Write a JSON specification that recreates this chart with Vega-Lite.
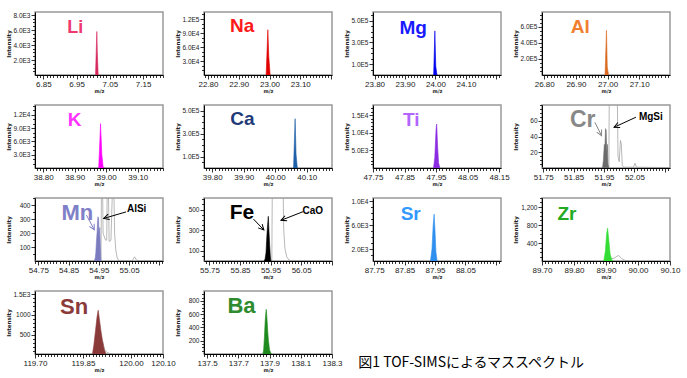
{
"$schema":"https://vega.github.io/schema/vega-lite/v6.json",
"background":"white",
"padding":{"left":5,"top":10,"right":5,"bottom":2},
"bounds":"flush",
"columns":4,
"spacing":{"row":30,"column":41},
"title":{"text":"図1 TOF-SIMSによるマススペクトル","orient":"bottom","anchor":"start","font":"Noto Sans CJK JP","fontSize":14,"fontWeight":"normal","color":"#000","dx":353,"dy":-17,"offset":0},
"concat":[
{"width":128,"height":63,
 "encoding":{
  "x":{"field":"x","type":"quantitative","scale":{"domain":[6.825,7.21],"nice":false,"zero":false},"axis":{"title":"m/z","tickCount":40,"labelExpr":"abs(round(datum.value*100)%10)==5?format(datum.value,'.2f'):''","tickSize":{"condition":{"test":"abs(round(datum.value*100)%10)==5","value":4},"value":2.5}}},
  "y":{"field":"y","type":"quantitative","scale":{"domain":[0,8400],"nice":false,"zero":false},"axis":{"title":"Intensity","values":[500,1000,1500,2000,2500,3000,3500,4000,4500,5000,5500,6000,6500,7000,7500,8000],"labelExpr":"indexof([2000,4000,6000,8000],datum.value)>=0?format(datum.value/pow(10,floor(log(datum.value)/LN10+1e-9)),'.1f')+'E'+floor(log(datum.value)/LN10+1e-9):''","tickSize":{"condition":{"test":"indexof([2000,4000,6000,8000],datum.value)>=0","value":4},"value":2.5}}}},
 "layer":[
  {"data":{"values":[{"x":7.007,"y":0},{"x":7.011,"y":5800},{"x":7.0125,"y":3000},{"x":7.015,"y":0}]},"mark":{"type":"area","color":"#d6285e","stroke":"#d6285e","strokeWidth":0.6,"clip":true}},
  {"data":{"values":[{"x":6.946,"y":6270,"t":"Li"}]},"mark":{"type":"text","fontSize":18,"color":"#ee3a6e"},"encoding":{"text":{"field":"t"}}}
 ]},
{"width":128,"height":63,
 "encoding":{
  "x":{"field":"x","type":"quantitative","scale":{"domain":[22.787,23.203],"nice":false,"zero":false},"axis":{"title":"m/z","tickCount":40,"labelExpr":"abs(round(datum.value*100)%10)==0&&datum.value<23.15?format(datum.value,'.2f'):''","tickSize":{"condition":{"test":"abs(round(datum.value*100)%10)==0","value":4},"value":2.5}}},
  "y":{"field":"y","type":"quantitative","scale":{"domain":[0,135000],"nice":false,"zero":false},"axis":{"title":"Intensity","values":[10000,20000,30000,40000,50000,60000,70000,80000,90000,100000,110000,120000,130000],"labelExpr":"indexof([30000,60000,90000,120000],datum.value)>=0?format(datum.value/pow(10,floor(log(datum.value)/LN10+1e-9)),'.1f')+'E'+floor(log(datum.value)/LN10+1e-9):''","tickSize":{"condition":{"test":"indexof([30000,60000,90000,120000],datum.value)>=0","value":4},"value":2.5}}}},
 "layer":[
  {"data":{"values":[{"x":22.989,"y":0},{"x":22.9945,"y":97000},{"x":22.9975,"y":40000},{"x":23.002,"y":0}]},"mark":{"type":"area","color":"#e00000","stroke":"#e00000","strokeWidth":0.6,"clip":true}},
  {"data":{"values":[{"x":22.911,"y":104000,"t":"Na"}]},"mark":{"type":"text","fontSize":19,"color":"#ff1a1a"},"encoding":{"text":{"field":"t"}}}
 ]},
{"width":128,"height":63,
 "encoding":{
  "x":{"field":"x","type":"quantitative","scale":{"domain":[23.795,24.215],"nice":false,"zero":false},"axis":{"title":"m/z","tickCount":40,"labelExpr":"abs(round(datum.value*100)%10)==0&&datum.value<24.15?format(datum.value,'.2f'):''","tickSize":{"condition":{"test":"abs(round(datum.value*100)%10)==0","value":4},"value":2.5}}},
  "y":{"field":"y","type":"quantitative","scale":{"domain":[0,580000],"nice":false,"zero":false},"axis":{"title":"Intensity","values":[50000,100000,150000,200000,250000,300000,350000,400000,450000,500000,550000],"labelExpr":"indexof([100000,300000,500000],datum.value)>=0?format(datum.value/pow(10,floor(log(datum.value)/LN10+1e-9)),'.1f')+'E'+floor(log(datum.value)/LN10+1e-9):''","tickSize":{"condition":{"test":"indexof([100000,300000,500000],datum.value)>=0","value":4},"value":2.5}}}},
 "layer":[
  {"data":{"values":[{"x":23.994,"y":0},{"x":23.998,"y":406000},{"x":24.001,"y":80000},{"x":24.005,"y":0}]},"mark":{"type":"area","color":"#0000ee","stroke":"#0000ee","strokeWidth":0.6,"clip":true}},
  {"data":{"values":[{"x":23.927,"y":435000,"t":"Mg"}]},"mark":{"type":"text","fontSize":19,"color":"#1a1aff"},"encoding":{"text":{"field":"t"}}}
 ]},
{"width":128,"height":63,
 "encoding":{
  "x":{"field":"x","type":"quantitative","scale":{"domain":[26.793,27.197],"nice":false,"zero":false},"axis":{"title":"m/z","tickCount":40,"labelExpr":"abs(round(datum.value*100)%10)==0&&datum.value<27.15?format(datum.value,'.2f'):''","tickSize":{"condition":{"test":"abs(round(datum.value*100)%10)==0","value":4},"value":2.5}}},
  "y":{"field":"y","type":"quantitative","scale":{"domain":[0,785000],"nice":false,"zero":false},"axis":{"title":"Intensity","values":[50000,100000,150000,200000,250000,300000,350000,400000,450000,500000,550000,600000,650000,700000,750000],"labelExpr":"indexof([200000,400000,600000],datum.value)>=0?format(datum.value/pow(10,floor(log(datum.value)/LN10+1e-9)),'.1f')+'E'+floor(log(datum.value)/LN10+1e-9):''","tickSize":{"condition":{"test":"indexof([200000,400000,600000],datum.value)>=0","value":4},"value":2.5}}}},
 "layer":[
  {"data":{"values":[{"x":26.992,"y":0},{"x":26.9965,"y":556000},{"x":26.999,"y":100000},{"x":27.003,"y":0}]},"mark":{"type":"area","color":"#d96a1e","stroke":"#d96a1e","strokeWidth":0.6,"clip":true}},
  {"data":{"values":[{"x":26.914,"y":596000,"t":"Al"}]},"mark":{"type":"text","fontSize":19,"color":"#f08030"},"encoding":{"text":{"field":"t"}}}
 ]},
{"width":128,"height":63,
 "encoding":{
  "x":{"field":"x","type":"quantitative","scale":{"domain":[38.774,39.18],"nice":false,"zero":false},"axis":{"title":"m/z","tickCount":40,"labelExpr":"abs(round(datum.value*100)%10)==0?format(datum.value,'.2f'):''","tickSize":{"condition":{"test":"abs(round(datum.value*100)%10)==0","value":4},"value":2.5}}},
  "y":{"field":"y","type":"quantitative","scale":{"domain":[0,14200],"nice":false,"zero":false},"axis":{"title":"Intensity","values":[1000,2000,3000,4000,5000,6000,7000,8000,9000,10000,11000,12000,13000,14000],"labelExpr":"indexof([3000,6000,9000,12000],datum.value)>=0?format(datum.value/pow(10,floor(log(datum.value)/LN10+1e-9)),'.1f')+'E'+floor(log(datum.value)/LN10+1e-9):''","tickSize":{"condition":{"test":"indexof([3000,6000,9000,12000],datum.value)>=0","value":4},"value":2.5}}}},
 "layer":[
  {"data":{"values":[{"x":38.990,"y":0},{"x":38.995,"y":150},{"x":39.000,"y":0},{"x":39.008,"y":100},{"x":39.013,"y":0},{"x":39.035,"y":80},{"x":39.040,"y":0}]},"mark":{"type":"line","color":"#aaaaaa","strokeWidth":0.7,"clip":true}},
  {"data":{"values":[{"x":38.976,"y":0},{"x":38.982,"y":10000},{"x":38.986,"y":3000},{"x":38.990,"y":300},{"x":38.993,"y":0}]},"mark":{"type":"area","color":"#ff00ff","stroke":"#ff00ff","strokeWidth":0.6,"clip":true}},
  {"data":{"values":[{"x":38.900,"y":10900,"t":"K"}]},"mark":{"type":"text","fontSize":19,"color":"#ff33ff"},"encoding":{"text":{"field":"t"}}}
 ]},
{"width":128,"height":63,
 "encoding":{
  "x":{"field":"x","type":"quantitative","scale":{"domain":[39.774,40.18],"nice":false,"zero":false},"axis":{"title":"m/z","tickCount":40,"labelExpr":"abs(round(datum.value*100)%10)==0?format(datum.value,'.2f'):''","tickSize":{"condition":{"test":"abs(round(datum.value*100)%10)==0","value":4},"value":2.5}}},
  "y":{"field":"y","type":"quantitative","scale":{"domain":[0,550000],"nice":false,"zero":false},"axis":{"title":"Intensity","values":[50000,100000,150000,200000,250000,300000,350000,400000,450000,500000],"labelExpr":"indexof([100000,300000,500000],datum.value)>=0?format(datum.value/pow(10,floor(log(datum.value)/LN10+1e-9)),'.1f')+'E'+floor(log(datum.value)/LN10+1e-9):''","tickSize":{"condition":{"test":"indexof([100000,300000,500000],datum.value)>=0","value":4},"value":2.5}}}},
 "layer":[
  {"data":{"values":[{"x":40.058,"y":0},{"x":40.063,"y":430000},{"x":40.066,"y":120000},{"x":40.070,"y":0}]},"mark":{"type":"area","color":"#1f5fa8","stroke":"#1f5fa8","strokeWidth":0.6,"clip":true}},
  {"data":{"values":[{"x":39.896,"y":431000,"t":"Ca"}]},"mark":{"type":"text","fontSize":19,"color":"#1f3a78"},"encoding":{"text":{"field":"t"}}}
 ]},
{"width":128,"height":63,
 "encoding":{
  "x":{"field":"x","type":"quantitative","scale":{"domain":[47.75,48.156],"nice":false,"zero":false},"axis":{"title":"m/z","tickCount":40,"labelExpr":"abs(round(datum.value*100)%10)==5?format(datum.value,'.2f'):''","tickSize":{"condition":{"test":"abs(round(datum.value*100)%10)==5","value":4},"value":2.5}}},
  "y":{"field":"y","type":"quantitative","scale":{"domain":[0,17900],"nice":false,"zero":false},"axis":{"title":"Intensity","values":[1000,2000,3000,4000,5000,6000,7000,8000,9000,10000,11000,12000,13000,14000,15000,16000,17000],"labelExpr":"indexof([5000,10000,15000],datum.value)>=0?format(datum.value/pow(10,floor(log(datum.value)/LN10+1e-9)),'.1f')+'E'+floor(log(datum.value)/LN10+1e-9):''","tickSize":{"condition":{"test":"indexof([5000,10000,15000],datum.value)>=0","value":4},"value":2.5}}}},
 "layer":[
  {"data":{"values":[{"x":47.942,"y":0},{"x":47.946,"y":3000},{"x":47.950,"y":11000},{"x":47.952,"y":12500},{"x":47.955,"y":6000},{"x":47.958,"y":1500},{"x":47.962,"y":0}]},"mark":{"type":"area","color":"#8a2be2","stroke":"#8a2be2","strokeWidth":0.6,"clip":true}},
  {"data":{"values":[{"x":47.871,"y":13650,"t":"Ti"}]},"mark":{"type":"text","fontSize":19,"color":"#b266ff"},"encoding":{"text":{"field":"t"}}}
 ]},
{"width":128,"height":63,
 "encoding":{
  "x":{"field":"x","type":"quantitative","scale":{"domain":[51.746,52.167],"nice":false,"zero":false},"axis":{"title":"m/z","tickCount":40,"labelExpr":"abs(round(datum.value*100)%10)==5&&datum.value<52.1?format(datum.value,'.2f'):''","tickSize":{"condition":{"test":"abs(round(datum.value*100)%10)==5","value":4},"value":2.5}}},
  "y":{"field":"y","type":"quantitative","scale":{"domain":[0,80],"nice":false,"zero":false},"axis":{"title":"Intensity","values":[5,10,15,20,25,30,35,40,45,50,55,60,65,70,75,80],"labelExpr":"indexof([20,40,60],datum.value)>=0?datum.label:''","tickSize":{"condition":{"test":"indexof([20,40,60],datum.value)>=0","value":4},"value":2.5}}}},
 "layer":[
  {"data":{"values":[{"x":51.746,"y":0.5},{"x":51.966,"y":0.5},{"x":51.968,"y":150},{"x":51.992,"y":150},{"x":51.996,"y":15},{"x":52.000,"y":8},{"x":52.004,"y":35},{"x":52.007,"y":30},{"x":52.010,"y":3},{"x":52.016,"y":1},{"x":52.047,"y":1},{"x":52.052,"y":6},{"x":52.057,"y":1},{"x":52.167,"y":0.5}]},"mark":{"type":"line","color":"#999999","strokeWidth":0.7,"clip":true}},
  {"data":{"values":[{"x":51.945,"y":0},{"x":51.948,"y":10},{"x":51.951,"y":30},{"x":51.953,"y":25},{"x":51.955,"y":50},{"x":51.957,"y":48},{"x":51.959,"y":20},{"x":51.961,"y":30},{"x":51.963,"y":5},{"x":51.966,"y":0}]},"mark":{"type":"area","color":"#6b6b6b","stroke":"#6b6b6b","strokeWidth":0.6,"clip":true}},
  {"data":{"values":[{"x":51.880,"y":61,"t":"Cr"}]},"mark":{"type":"text","fontSize":23,"color":"#888888"},"encoding":{"text":{"field":"t"}}},
  {"data":{"values":[{"x":51.920,"y":58,"x2":51.942,"y2":41}]},"mark":{"type":"rule","color":"#888888","strokeWidth":1},"encoding":{"x2":{"field":"x2"},"y2":{"field":"y2"}}},
  {"data":{"values":[{"x":51.942,"y":41}]},"mark":{"type":"point","shape":"M-0.5,1L0,0L0.5,1","filled":false,"size":120,"strokeWidth":1,"color":"#888888","opacity":1,"angle":153}},
  {"data":{"values":[{"x":52.104,"y":64.5,"t":"MgSi"}]},"mark":{"type":"text","fontSize":10,"color":"#000000"},"encoding":{"text":{"field":"t"}}},
  {"data":{"values":[{"x":52.055,"y":64.5,"x2":51.983,"y2":51.7}]},"mark":{"type":"rule","color":"#000000","strokeWidth":1},"encoding":{"x2":{"field":"x2"},"y2":{"field":"y2"}}},
  {"data":{"values":[{"x":51.983,"y":51.7}]},"mark":{"type":"point","shape":"M-0.5,1L0,0L0.5,1","filled":false,"size":120,"strokeWidth":1,"color":"#000000","opacity":1,"angle":245}}
 ]},
{"width":128,"height":63,
 "encoding":{
  "x":{"field":"x","type":"quantitative","scale":{"domain":[54.739,55.162],"nice":false,"zero":false},"axis":{"title":"m/z","tickCount":40,"labelExpr":"abs(round(datum.value*100)%10)==5&&datum.value<55.1?format(datum.value,'.2f'):''","tickSize":{"condition":{"test":"abs(round(datum.value*100)%10)==5","value":4},"value":2.5}}},
  "y":{"field":"y","type":"quantitative","scale":{"domain":[0,453],"nice":false,"zero":false},"axis":{"title":"Intensity","values":[50,100,150,200,250,300,350,400,450],"labelExpr":"indexof([100,200,300,400],datum.value)>=0?datum.label:''","tickSize":{"condition":{"test":"indexof([100,200,300,400],datum.value)>=0","value":4},"value":2.5}}}},
 "layer":[
  {"data":{"values":[{"x":54.739,"y":1},{"x":54.957,"y":1},{"x":54.959,"y":600},{"x":54.962,"y":600},{"x":54.964,"y":200},{"x":54.972,"y":150},{"x":54.976,"y":150},{"x":54.978,"y":600},{"x":54.981,"y":600},{"x":54.984,"y":140},{"x":54.990,"y":150},{"x":54.996,"y":600},{"x":54.999,"y":600},{"x":55.002,"y":200},{"x":55.006,"y":80},{"x":55.010,"y":30},{"x":55.015,"y":5},{"x":55.020,"y":1},{"x":55.060,"y":1},{"x":55.068,"y":30},{"x":55.075,"y":5},{"x":55.090,"y":1},{"x":55.162,"y":1}]},"mark":{"type":"line","color":"#999999","strokeWidth":0.7,"clip":true}},
  {"data":{"values":[{"x":54.935,"y":0},{"x":54.938,"y":20},{"x":54.940,"y":60},{"x":54.942,"y":140},{"x":54.944,"y":200},{"x":54.946,"y":290},{"x":54.947,"y":318},{"x":54.949,"y":305},{"x":54.951,"y":160},{"x":54.953,"y":240},{"x":54.955,"y":100},{"x":54.957,"y":0}]},"mark":{"type":"area","color":"#7b7bc0","stroke":"#7b7bc0","strokeWidth":0.6,"clip":true}},
  {"data":{"values":[{"x":54.879,"y":345,"t":"Mn"}]},"mark":{"type":"text","fontSize":22,"color":"#8080c8"},"encoding":{"text":{"field":"t"}}},
  {"data":{"values":[{"x":54.909,"y":330,"x2":54.935,"y2":224}]},"mark":{"type":"rule","color":"#8080c8","strokeWidth":1},"encoding":{"x2":{"field":"x2"},"y2":{"field":"y2"}}},
  {"data":{"values":[{"x":54.935,"y":224}]},"mark":{"type":"point","shape":"M-0.5,1L0,0L0.5,1","filled":false,"size":120,"strokeWidth":1,"color":"#8080c8","opacity":1,"angle":152}},
  {"data":{"values":[{"x":55.075,"y":376,"t":"AlSi"}]},"mark":{"type":"text","fontSize":10,"color":"#000000"},"encoding":{"text":{"field":"t"}}},
  {"data":{"values":[{"x":55.040,"y":353,"x2":54.966,"y2":306}]},"mark":{"type":"rule","color":"#000000","strokeWidth":1},"encoding":{"x2":{"field":"x2"},"y2":{"field":"y2"}}},
  {"data":{"values":[{"x":54.966,"y":306}]},"mark":{"type":"point","shape":"M-0.5,1L0,0L0.5,1","filled":false,"size":120,"strokeWidth":1,"color":"#000000","opacity":1,"angle":253}}
 ]},
{"width":128,"height":63,
 "encoding":{
  "x":{"field":"x","type":"quantitative","scale":{"domain":[55.732,56.151],"nice":false,"zero":false},"axis":{"title":"m/z","tickCount":40,"labelExpr":"abs(round(datum.value*100)%10)==5&&datum.value<56.1?format(datum.value,'.2f'):''","tickSize":{"condition":{"test":"abs(round(datum.value*100)%10)==5","value":4},"value":2.5}}},
  "y":{"field":"y","type":"quantitative","scale":{"domain":[0,612],"nice":false,"zero":false},"axis":{"title":"Intensity","values":[50,100,150,200,250,300,350,400,450,500,550,600],"labelExpr":"indexof([100,300,500],datum.value)>=0?datum.label:''","tickSize":{"condition":{"test":"indexof([100,300,500],datum.value)>=0","value":4},"value":2.5}}}},
 "layer":[
  {"data":{"values":[{"x":55.732,"y":1},{"x":55.954,"y":1},{"x":55.956,"y":900},{"x":55.990,"y":900},{"x":55.993,"y":300},{"x":55.997,"y":120},{"x":56.003,"y":40},{"x":56.010,"y":10},{"x":56.020,"y":2},{"x":56.151,"y":1}]},"mark":{"type":"line","color":"#999999","strokeWidth":0.7,"clip":true}},
  {"data":{"values":[{"x":55.929,"y":0},{"x":55.932,"y":20},{"x":55.935,"y":80},{"x":55.937,"y":200},{"x":55.939,"y":300},{"x":55.941,"y":380},{"x":55.9425,"y":434},{"x":55.9445,"y":300},{"x":55.947,"y":150},{"x":55.949,"y":50},{"x":55.951,"y":0}]},"mark":{"type":"area","color":"#000000","stroke":"#000000","strokeWidth":0.6,"clip":true}},
  {"data":{"values":[{"x":55.856,"y":470,"t":"Fe"}]},"mark":{"type":"text","fontSize":21,"color":"#000000"},"encoding":{"text":{"field":"t"}}},
  {"data":{"values":[{"x":55.894,"y":407,"x2":55.928,"y2":301}]},"mark":{"type":"rule","color":"#000000","strokeWidth":1},"encoding":{"x2":{"field":"x2"},"y2":{"field":"y2"}}},
  {"data":{"values":[{"x":55.928,"y":301}]},"mark":{"type":"point","shape":"M-0.5,1L0,0L0.5,1","filled":false,"size":120,"strokeWidth":1,"color":"#000000","opacity":1,"angle":137}},
  {"data":{"values":[{"x":56.088,"y":488,"t":"CaO"}]},"mark":{"type":"text","fontSize":10,"color":"#000000"},"encoding":{"text":{"field":"t"}}},
  {"data":{"values":[{"x":56.056,"y":479,"x2":55.984,"y2":395}]},"mark":{"type":"rule","color":"#000000","strokeWidth":1},"encoding":{"x2":{"field":"x2"},"y2":{"field":"y2"}}},
  {"data":{"values":[{"x":55.984,"y":395}]},"mark":{"type":"point","shape":"M-0.5,1L0,0L0.5,1","filled":false,"size":120,"strokeWidth":1,"color":"#000000","opacity":1,"angle":248}}
 ]},
{"width":128,"height":63,
 "encoding":{
  "x":{"field":"x","type":"quantitative","scale":{"domain":[87.746,88.167],"nice":false,"zero":false},"axis":{"title":"m/z","tickCount":40,"labelExpr":"abs(round(datum.value*100)%10)==5&&datum.value<88.1?format(datum.value,'.2f'):''","tickSize":{"condition":{"test":"abs(round(datum.value*100)%10)==5","value":4},"value":2.5}}},
  "y":{"field":"y","type":"quantitative","scale":{"domain":[0,10500],"nice":false,"zero":false},"axis":{"title":"Intensity","values":[1000,2000,3000,4000,5000,6000,7000,8000,9000,10000],"labelExpr":"indexof([2000,6000,10000],datum.value)>=0?format(datum.value/pow(10,floor(log(datum.value)/LN10+1e-9)),'.1f')+'E'+floor(log(datum.value)/LN10+1e-9):''","tickSize":{"condition":{"test":"indexof([2000,6000,10000],datum.value)>=0","value":4},"value":2.5}}}},
 "layer":[
  {"data":{"values":[{"x":87.935,"y":0},{"x":87.940,"y":2000},{"x":87.944,"y":6000},{"x":87.947,"y":7800},{"x":87.950,"y":5000},{"x":87.953,"y":1500},{"x":87.957,"y":0}]},"mark":{"type":"area","color":"#2e8fee","stroke":"#2e8fee","strokeWidth":0.6,"clip":true}},
  {"data":{"values":[{"x":87.870,"y":7800,"t":"Sr"}]},"mark":{"type":"text","fontSize":19,"color":"#3399ff"},"encoding":{"text":{"field":"t"}}}
 ]},
{"width":128,"height":63,
 "encoding":{
  "x":{"field":"x","type":"quantitative","scale":{"domain":[89.70,90.10],"nice":false,"zero":false},"axis":{"title":"m/z","tickCount":40,"labelExpr":"abs(round(datum.value*100)%10)==0?format(datum.value,'.2f'):''","tickSize":{"condition":{"test":"abs(round(datum.value*100)%10)==0","value":4},"value":2.5}}},
  "y":{"field":"y","type":"quantitative","scale":{"domain":[0,1400],"nice":false,"zero":false},"axis":{"title":"Intensity","values":[100,200,300,400,500,600,700,800,900,1000,1100,1200,1300,1400],"labelExpr":"indexof([400,800,1200],datum.value)>=0?datum.label:''","tickSize":{"condition":{"test":"indexof([400,800,1200],datum.value)>=0","value":4},"value":2.5}}}},
 "layer":[
  {"data":{"values":[{"x":89.915,"y":50},{"x":89.925,"y":60},{"x":89.935,"y":110},{"x":89.940,"y":120},{"x":89.948,"y":60},{"x":89.960,"y":10},{"x":89.970,"y":0}]},"mark":{"type":"line","color":"#999999","strokeWidth":0.7,"clip":true}},
  {"data":{"values":[{"x":89.893,"y":0},{"x":89.898,"y":220},{"x":89.902,"y":600},{"x":89.905,"y":730},{"x":89.909,"y":450},{"x":89.913,"y":150},{"x":89.918,"y":30},{"x":89.922,"y":0}]},"mark":{"type":"area","color":"#33dd33","stroke":"#33dd33","strokeWidth":0.6,"clip":true}},
  {"data":{"values":[{"x":89.778,"y":1050,"t":"Zr"}]},"mark":{"type":"text","fontSize":19,"color":"#22aa22"},"encoding":{"text":{"field":"t"}}}
 ]},
{"width":128,"height":63,
 "encoding":{
  "x":{"field":"x","type":"quantitative","scale":{"domain":[119.70,120.10],"nice":false,"zero":false},"axis":{"title":"m/z","tickCount":40,"labelExpr":"indexof([11970,11985,12000,12010],round(datum.value*100))>=0?format(datum.value,'.2f'):''","tickSize":{"condition":{"test":"indexof([11970,11985,12000,12010],round(datum.value*100))>=0","value":4},"value":2.5}}},
  "y":{"field":"y","type":"quantitative","scale":{"domain":[30,1580],"nice":false,"zero":false},"axis":{"title":"Intensity","values":[100,200,300,400,500,600,700,800,900,1000,1100,1200,1300,1400,1500],"labelExpr":"datum.value==500?'500':datum.value==1000?'1000':datum.value==1500?'1.5E3':''","tickSize":{"condition":{"test":"indexof([500,1000,1500],datum.value)>=0","value":4},"value":2.5}}}},
 "layer":[
  {"data":{"values":[{"x":119.911,"y":350},{"x":119.918,"y":120},{"x":119.925,"y":70},{"x":119.933,"y":45},{"x":119.941,"y":30}]},"mark":{"type":"line","color":"#999999","strokeWidth":0.7,"clip":true}},
  {"data":{"values":[{"x":119.879,"y":0},{"x":119.884,"y":250},{"x":119.889,"y":600},{"x":119.894,"y":950},{"x":119.8975,"y":1107},{"x":119.901,"y":900},{"x":119.906,"y":600},{"x":119.911,"y":350},{"x":119.916,"y":150},{"x":119.923,"y":0}]},"mark":{"type":"area","color":"#8b3a3a","stroke":"#8b3a3a","strokeWidth":0.6,"clip":true}},
  {"data":{"values":[{"x":119.822,"y":1180,"t":"Sn"}]},"mark":{"type":"text","fontSize":22,"color":"#8b3a3a"},"encoding":{"text":{"field":"t"}}}
 ]},
{"width":128,"height":63,
 "encoding":{
  "x":{"field":"x","type":"quantitative","scale":{"domain":[137.48,138.30],"nice":false,"zero":false},"axis":{"title":"m/z","tickCount":40,"labelExpr":"abs(round(datum.value*100)%20)==10?format(datum.value,'.1f'):''","tickSize":{"condition":{"test":"abs(round(datum.value*100)%20)==10","value":4},"value":2.5}}},
  "y":{"field":"y","type":"quantitative","scale":{"domain":[0,950],"nice":false,"zero":false},"axis":{"title":"Intensity","values":[50,100,150,200,250,300,350,400,450,500,550,600,650,700,750,800,850,900],"labelExpr":"indexof([200,400,600,800],datum.value)>=0?datum.label:''","tickSize":{"condition":{"test":"indexof([200,400,600,800],datum.value)>=0","value":4},"value":2.5}}}},
 "layer":[
  {"data":{"values":[{"x":137.857,"y":0},{"x":137.862,"y":60},{"x":137.867,"y":250},{"x":137.872,"y":500},{"x":137.877,"y":640},{"x":137.879,"y":673},{"x":137.883,"y":550},{"x":137.888,"y":350},{"x":137.893,"y":200},{"x":137.900,"y":60},{"x":137.911,"y":0}]},"mark":{"type":"area","color":"#1e8a1e","stroke":"#1e8a1e","strokeWidth":0.6,"clip":true}},
  {"data":{"values":[{"x":137.72,"y":720,"t":"Ba"}]},"mark":{"type":"text","fontSize":22,"color":"#2e8b2e"},"encoding":{"text":{"field":"t"}}}
 ]}
],
"config":{
 "view":{"stroke":"#999999","strokeWidth":1.5},
 "axis":{"grid":false,"domainColor":"#000000","domainWidth":1,"tickColor":"#000000","tickWidth":0.8,"labelColor":"#222222","labelFont":"Liberation Sans","titleFont":"DejaVu Sans","titleColor":"#222222","titleFontWeight":"bold","labelOverlap":false},
 "axisX":{"labelFontSize":8,"titleFontSize":5,"titlePadding":0,"labelPadding":1,"labelFlush":false},
 "axisY":{"labelFontSize":6.5,"titleFontSize":5.5,"titlePadding":2,"labelPadding":1,"minExtent":22,"maxExtent":22},
 "text":{"font":"Liberation Sans","fontWeight":"bold"}
}
}
